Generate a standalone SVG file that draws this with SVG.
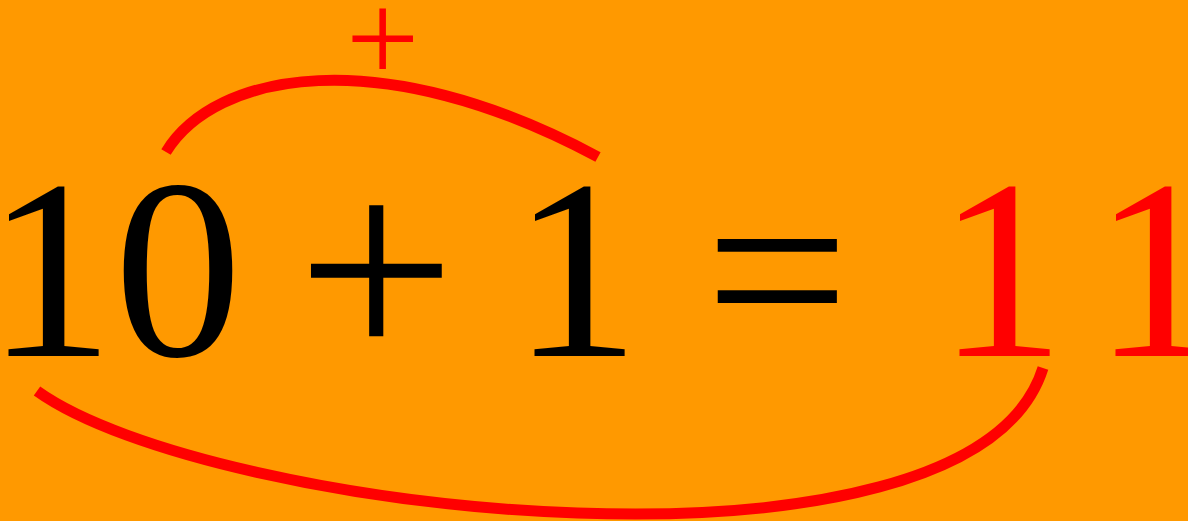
<svg xmlns="http://www.w3.org/2000/svg" width="1188" height="521" viewBox="0 0 1188 521">
  <style>
    .t { font-family: "Liberation Serif", "Times New Roman", serif; font-size: 256px; }
    .k { fill: #000000; }
    .r { fill: #FF0000; }
    .arc { fill: none; stroke: #FF0000; stroke-width: 11; stroke-linecap: butt; }
  </style>
  <rect x="0" y="0" width="1188" height="521" fill="#FF9900"/>
  <g id="connectors">
    <path class="arc" d="M166,152 C215,72 380,40 598,157"/>
    <path class="arc" d="M37,391 C210,515 970,600 1043,368"/>
  </g>
  <g id="node-ten"><text class="t k" x="-14" y="356">10</text></g>
  <g id="node-plus"><text class="t k" x="297" y="364" style="font-size: 281px;">+</text></g>
  <g id="node-one"><text class="t k" x="512" y="356">1</text></g>
  <g id="node-equals"><text class="t k" x="705" y="356">=</text></g>
  <g id="node-eleven">
    <text class="t r" x="937" y="356">1</text>
    <text class="t r" x="1093" y="356">1</text>
  </g>
  <g id="node-plus-label"><text class="t r" x="346" y="82" style="font-size: 130px;">+</text></g>
</svg>
